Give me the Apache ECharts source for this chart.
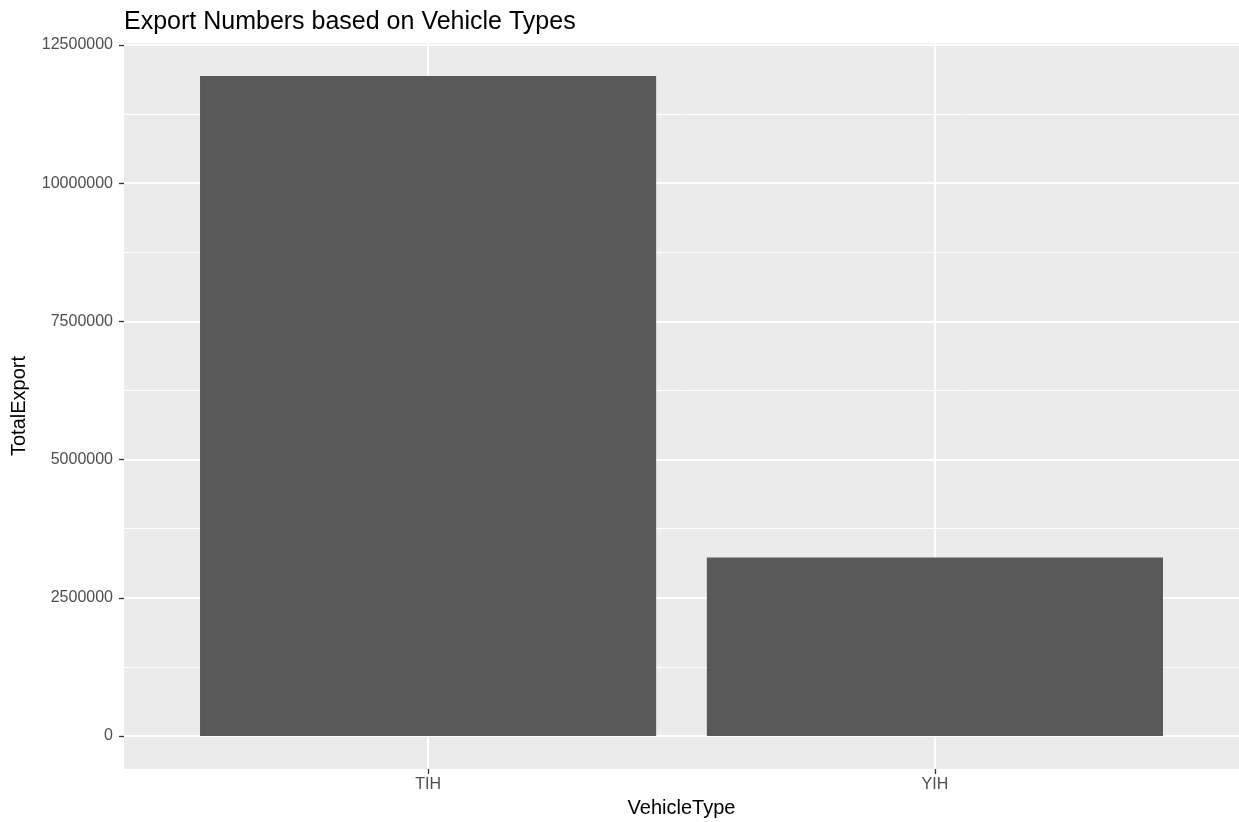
<!DOCTYPE html>
<html>
<head>
<meta charset="utf-8">
<script src="https://cdn.jsdelivr.net/npm/echarts@6/dist/echarts.min.js"></script>
<style>
html,body{margin:0;padding:0;background:#fff;}
#chart{width:1239px;height:822px;}
</style>
</head>
<body>
<div id="chart"></div>
<script>
// ---- data ----
const categories = ['TIH', 'YIH'];
const totalExport = [11940000, 3230000];
const yTicks = [0, 2500000, 5000000, 7500000, 10000000, 12500000];
const yMinorTicks = [1250000, 3750000, 6250000, 8750000, 11250000];
const xPositions = [1, 2];

const FONT = '"Liberation Sans", Arial, Helvetica, sans-serif';
const chart = echarts.init(document.getElementById('chart'), null, {renderer: 'canvas'});

const barData = categories.map((c, i) => [xPositions[i], totalExport[i]]);

const option = {
  backgroundColor: '#ffffff',
  animation: false,
  title: {
    text: 'Export Numbers based on Vehicle Types',
    left: 119,
    top: 5,
    textStyle: {fontFamily: FONT, fontSize: 25, fontWeight: 'normal', color: '#000000'}
  },
  grid: {
    left: 124, right: 0, top: 43, bottom: 53,
    outerBoundsMode: 'none',
    containLabel: false,
    show: true, backgroundColor: '#EBEBEB', borderWidth: 0
  },
  xAxis: {
    type: 'value',
    min: 0.4, max: 2.6,
    name: 'VehicleType',
    nameLocation: 'middle',
    nameGap: 29,
    nameTextStyle: {fontFamily: FONT, fontSize: 20, color: '#000000'},
    axisLine: {show: false, onZero: false},
    axisTick: {show: true, length: 5, customValues: xPositions, lineStyle: {color: '#333333', width: 1.3}},
    axisLabel: {
      customValues: xPositions,
      margin: 8,
      fontFamily: FONT, fontSize: 16, color: '#4D4D4D',
      formatter: v => categories[Math.round(v) - 1]
    },
    splitLine: {show: true, lineStyle: {color: '#FFFFFF', width: 2}}
  },
  yAxis: [{
    type: 'value',
    min: -597000, max: 12537000,
    name: 'TotalExport',
    nameLocation: 'middle',
    nameGap: 95,
    nameRotate: 90,
    nameTextStyle: {fontFamily: FONT, fontSize: 20, color: '#000000'},
    axisLine: {show: false, onZero: false},
    axisTick: {show: true, length: 5, customValues: yTicks, lineStyle: {color: '#333333', width: 1.3}},
    axisLabel: {
      customValues: yTicks,
      margin: 11,
      fontFamily: FONT, fontSize: 16, color: '#4D4D4D',
      formatter: v => String(v)
    },
    splitLine: {show: true, lineStyle: {color: '#FFFFFF', width: 2}},
    z: 3
  }, {
    type: 'value',
    min: -597000, max: 12537000,
    position: 'left',
    axisLine: {show: false, onZero: false},
    axisTick: {show: false, customValues: yMinorTicks},
    axisLabel: {show: false, customValues: yMinorTicks},
    splitLine: {show: true, lineStyle: {color: '#FFFFFF', width: 1}},
    z: 1
  }],
  series: [{
    type: 'custom',
    name: 'TotalExport',
    data: barData,
    encode: {x: 0, y: 1},
    renderItem: function (params, api) {
      const base = api.coord([api.value(0), 0]);
      const top = api.coord([api.value(0), api.value(1)]);
      const w = api.size([0.9, 0])[0];
      return {
        type: 'rect',
        shape: {x: base[0] - w / 2, y: top[1], width: w, height: base[1] - top[1]},
        style: {fill: '#595959'}
      };
    },
    z: 5
  }]
};
chart.setOption(option);
</script>
</body>
</html>
